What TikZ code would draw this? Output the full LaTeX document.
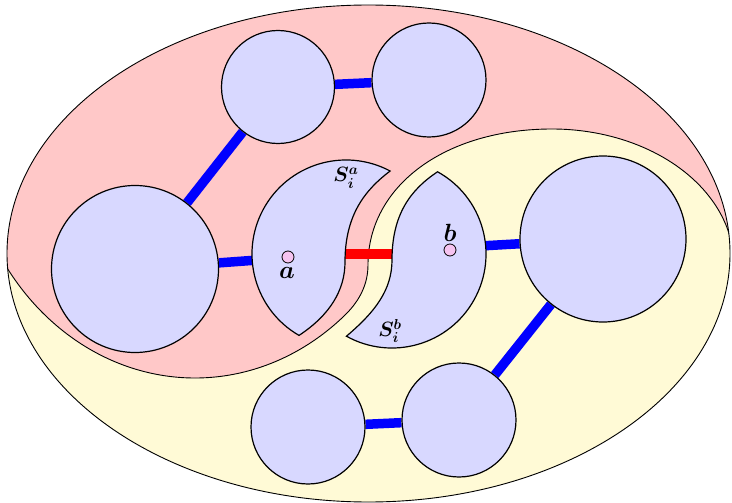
\documentclass[tikz,border=0pt]{standalone}
\definecolor{pinkbg}{RGB}{255,200,200}
\definecolor{yellowbg}{RGB}{255,250,214}
\definecolor{lav}{RGB}{216,216,255}
\definecolor{dotc}{RGB}{245,195,240}
\pgfdeclarelayer{back}
\pgfdeclarelayer{mid}
\pgfsetlayers{back,mid,main}
% boundary between the pink and the yellow region
\def\myboundary{(195,118) ++(200:230pt and 260pt)
  arc[start angle=200,end angle=310,x radius=230pt,y radius=260pt]
  .. controls (353.8,306.9) and (368,290) .. (368,265)
  .. controls (368,186) and (445,129) .. (552,129)
  arc[start angle=90,end angle=-15,x radius=182pt,y radius=136pt]}
\def\mypinkpath{\myboundary -- (760,300) -- (760,-30) -- (-30,-30) -- (-30,150) -- cycle}
\def\myouter{(368.5,253.5) ellipse [x radius=361.5pt, y radius=248.5pt]}
\begin{document}
\begin{tikzpicture}[x=1pt,y=-1pt,
  blob/.style={circle,draw,line width=1.2pt,fill=lav,inner sep=0pt},
  crescent/.style={draw,line width=1.2pt,fill=lav},
  link/.style={line width=9.5pt,blue},
  cutedge/.style={line width=10pt,red},
  region/.style={line width=0.9pt},
  vtx/.style={circle,draw,line width=0.8pt,fill=dotc,inner sep=0pt,minimum size=12pt},
  lab/.style={font=\fontsize{21}{25}\selectfont\boldmath,inner sep=0pt},
  vlab/.style={font=\fontsize{23}{27}\selectfont\boldmath,inner sep=0pt}]
\useasboundingbox (0,0) rectangle (732,503);
% background regions
\begin{pgfonlayer}{back}
  \fill[yellowbg] \myouter;
  \begin{scope}
    \clip \myouter;
    \fill[pinkbg] \mypinkpath;
    \draw[region] \myboundary;
  \end{scope}
  \draw[region] \myouter;
\end{pgfonlayer}
% sets
\node[blob,minimum size=113pt] (c1) at (278,87) {};
\node[blob,minimum size=114pt] (c2) at (429,80) {};
\node[blob,minimum size=167pt] (c3) at (135,269) {};
\node[blob,minimum size=166pt] (c4) at (603,239) {};
\node[blob,minimum size=114pt] (c5) at (308,427) {};
\node[blob,minimum size=114pt] (c6) at (459,420) {};
% crescents S_i^a and S_i^b
\draw[crescent] (346,254) ++(62:94pt) arc[start angle=62,end angle=240,radius=94pt]
  .. controls (330,315) and (345,290) .. (345,262)
  .. controls (345,215) and (365,190) .. cycle;
\draw[crescent] (392,254) ++(61:94pt) arc[start angle=61,end angle=-119,radius=94pt]
  .. controls (375,312) and (392,290) .. (392,260)
  .. controls (392,215) and (410,190) .. cycle;
\coordinate (saW) at (258,260);
\coordinate (saE) at (340,254);
\coordinate (sbW) at (398,254);
\coordinate (sbE) at (480,246);
% connectors
\begin{pgfonlayer}{mid}
  \draw[link] (c1) -- (c2);
  \draw[link] (c1) -- (c3);
  \draw[link] (c3) -- (saW);
  \draw[link] (sbE) -- (c4);
  \draw[link] (c4) -- (c6);
  \draw[link] (c5) -- (c6);
  \draw[cutedge] (saE) -- (sbW);
\end{pgfonlayer}
% vertices and labels
\node[vtx] (a) at (288,257) {};
\node[vtx] (b) at (450,250) {};
\node[vlab] (la) at (287,273) {$a$};
\node[vlab] (lb) at (450,233) {$b$};
\node[lab] (lsa) at (346,178) {$S_i^a$};
\node[lab] (lsb) at (390,331) {$S_i^b$};
\end{tikzpicture}
\end{document}
